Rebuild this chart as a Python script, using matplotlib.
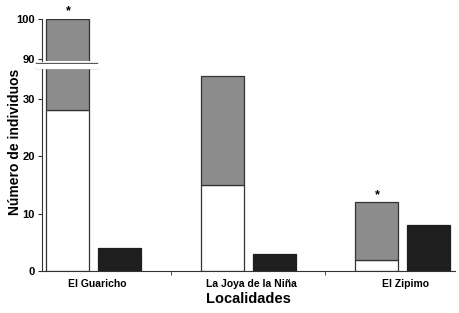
import matplotlib.pyplot as plt
from matplotlib.lines import Line2D
import numpy as np

plt.rcParams['font.family'] = ['Liberation Sans', 'DejaVu Sans']
plt.rcParams['font.weight'] = 'bold'

localidades = ["El Guaricho", "La Joya de la Niña", "El Zipimo"]
blancos = [28, 15, 2]
grises = [72, 19, 10]
negros = [4, 3, 8]
asterisco = [True, False, True]

x = np.arange(len(localidades))
w = 0.278
off = 0.167
edge = "#333333"
gris = "#8c8c8c"
negro = "#1e1e1e"

fig = plt.figure(figsize=(4.6, 3.13), dpi=100)
ax_top = fig.add_axes([0.0913, 0.8051, 0.8977, 0.1342])
ax = fig.add_axes([0.0913, 0.1342, 0.8977, 0.6485])

for a in (ax, ax_top):
    a.bar(x - off, blancos, w, color="white", edgecolor=edge, linewidth=0.9)
    a.bar(x - off, grises, w, bottom=blancos, color=gris, edgecolor=edge, linewidth=0.9)
    a.bar(x + off, negros, w, color=negro, edgecolor=negro, linewidth=0.9)
    a.set_xlim(-0.335, 2.338)
    for s in ["top", "right"]:
        a.spines[s].set_visible(False)
    a.spines["left"].set_color(edge)
    a.spines["bottom"].set_color(edge)
    a.tick_params(axis="y", direction="out", length=3, color=edge, labelsize=8, pad=2)

ax.set_ylim(0, 35.4)
ax.set_yticks([0, 10, 20, 30])
ax.set_xticks(x + 0.02)
ax.set_xticklabels(localidades, fontsize=7.5, fontweight="bold")
ax.set_xticks([0.5, 1.5], minor=True)
ax.tick_params(axis="x", which="major", length=0, pad=6)
ax.tick_params(axis="x", which="minor", length=3, color=edge)
ax.set_xlabel("Localidades", fontsize=10.5, fontweight="bold", labelpad=2)
ax.set_ylabel("Número de individuos", fontsize=10, fontweight="bold")
ax.yaxis.set_label_coords(-0.048, 0.635)

ax_top.set_ylim(89.5, 100)
ax_top.set_yticks([90, 100])
ax_top.spines["bottom"].set_visible(False)
ax_top.set_xticks([])

# asteriscos
for i, flag in enumerate(asterisco):
    if not flag:
        continue
    total = blancos[i] + grises[i]
    target = ax_top if total > 35 else ax
    target.annotate("*", (x[i] - off, total), xytext=(0, 1), textcoords="offset points",
                    ha="center", va="bottom", fontsize=9, annotation_clip=False)

# marcas de corte
for yy in (1 - 63 / 313, 1 - 68 / 313):
    fig.add_artist(Line2D([36 / 460, 97 / 460], [yy, yy], color=edge, lw=0.9))
fig.patches.append(plt.Rectangle((36 / 460, 1 - 67.5 / 313), 61 / 460, 4 / 313,
                                 transform=fig.transFigure, color="white", zorder=5))

fig.savefig("out.png", dpi=100)
